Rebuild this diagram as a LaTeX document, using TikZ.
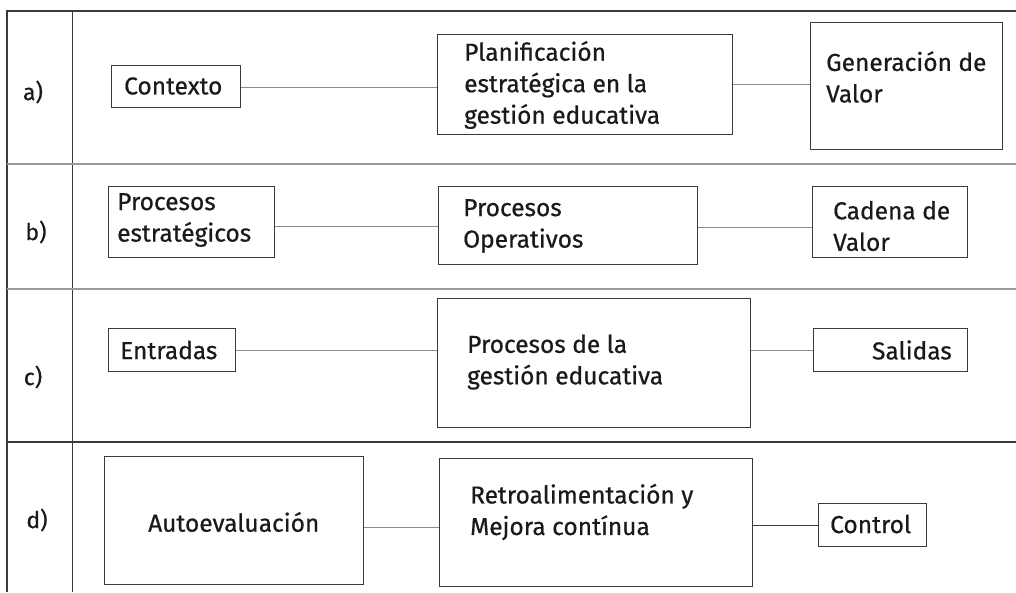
\documentclass[tikz,border=0pt]{standalone}
\usepackage{fontspec}
\setmainfont{Fira Sans}[FakeBold=0.6]
\definecolor{boxc}{HTML}{3A3A3A}
\definecolor{linec}{HTML}{8C8C8C}
\definecolor{sepc}{HTML}{9A9A9A}
\definecolor{txtc}{HTML}{1A1A1A}
\begin{document}
\begin{tikzpicture}[x=1pt,y=-1pt,
  box/.style={draw=boxc,line width=1.2pt,inner sep=0pt,anchor=north west},
  txt/.style={anchor=west,align=left,inner sep=0pt,text=txtc,font=\fontsize{24.5}{31.5}\selectfont},
  lbl/.style={anchor=center,inner sep=0pt,text=txtc,font=\fontsize{23}{26}\selectfont},
  conn/.style={draw=linec,line width=0.9pt},
  frame/.style={draw=boxc,line width=1.2pt},
  sep/.style={draw=sepc,line width=1.1pt}]
\useasboundingbox (0,0) rectangle (1016,592);
\fill[white] (0,0) rectangle (1016,592);
% frame
\draw[frame] (1016,11) -- (7,11) -- (7,592);
\draw[frame] (72.5,11) -- (72.5,592);
\draw[sep] (7,164) -- (1016,164);
\draw[sep] (7,289) -- (1016,289);
\draw[frame] (7,442) -- (1016,442);
% labels
\node[lbl] (la) at (33,92) {a)};
\node[lbl] (lb) at (36,232) {b)};
\node[lbl] (lc) at (33,377) {c)};
\node[lbl] (ld) at (37,520) {d)};
% row a
\node[box,minimum width=129pt,minimum height=42pt] (a1) at (111,65) {};
\node[box,minimum width=295pt,minimum height=100pt] (a2) at (437,34) {};
\node[box,minimum width=192pt,minimum height=127pt] (a3) at (810,22) {};
\node[txt] (ta1) at (124,86) {Contexto};
\node[txt] (ta2) at (464,85) {Planificación\\estratégica en la\\gestión educativa};
\node[txt] (ta3) at (826,77) {Generación de\\Valor};
\draw[conn] ([yshift=-1pt]a1.east) -- ([yshift=-1pt]a1.east -| a2.west);
\draw[conn] (a2.east) -- (a2.east -| a3.west);
% row b
\node[box,minimum width=166pt,minimum height=71pt] (b1) at (108,186) {};
\node[box,minimum width=259pt,minimum height=78pt] (b2) at (438,186) {};
\node[box,minimum width=155pt,minimum height=71pt] (b3) at (812,186) {};
\node[txt] (tb1) at (117,220) {Procesos\\estratégicos};
\node[txt] (tb2) at (463,226) {Procesos\\Operativos};
\node[txt] (tb3) at (833,226) {Cadena de\\Valor};
\draw[conn] ([yshift=-4.5pt]b1.east) -- ([yshift=-4.5pt]b1.east -| b2.west);
\draw[conn] ([yshift=-2pt]b2.east) -- ([yshift=-2pt]b2.east -| b3.west);
% row c
\node[box,minimum width=127pt,minimum height=43pt] (c1) at (108,328) {};
\node[box,minimum width=313pt,minimum height=129pt] (c2) at (437,298) {};
\node[box,minimum width=154pt,minimum height=43pt] (c3) at (813,328) {};
\node[txt] (tc1) at (120,350) {Entradas};
\node[txt] (tc2) at (467,362) {Procesos de la\\gestión educativa};
\node[txt,anchor=east] (tc3) at (952,350) {Salidas};
\draw[conn] (c1.east) -- (c1.east -| c2.west);
\draw[conn] (c3.west -| c2.east) -- (c3.west);
% row d
\node[box,minimum width=259pt,minimum height=128pt] (d1) at (104,456) {};
\node[box,minimum width=313pt,minimum height=128pt] (d2) at (439,458) {};
\node[box,minimum width=108pt,minimum height=43pt] (d3) at (818,503) {};
\node[txt] (td1) at (148,522) {Autoevaluación};
\node[txt] (td2) at (470,512) {Retroalimentación y\\Mejora contínua};
\node[txt] (td3) at (830,524) {Control};
\draw[conn] ([yshift=-7pt]d1.east) -- ([yshift=-7pt]d1.east -| d2.west);
\draw[conn,draw=boxc] (d3.west -| d2.east) -- (d3.west);
\end{tikzpicture}
\end{document}
